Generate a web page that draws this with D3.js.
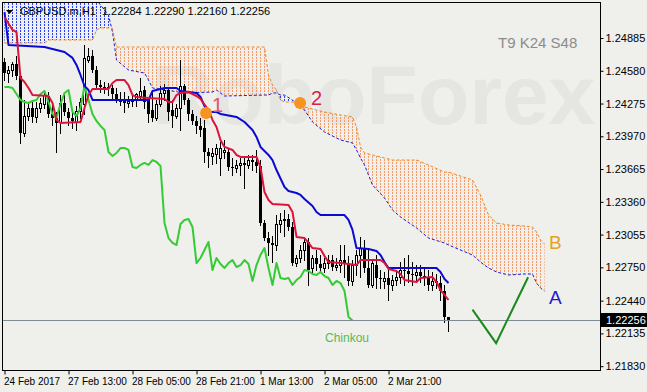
<!DOCTYPE html>
<html>
<head>
<meta charset="utf-8">
<script src="https://cdn.jsdelivr.net/npm/d3@7"></script>
<style>
  body { margin: 0; background: #efefeb; }
  svg { display: block; font-family: "Liberation Sans", Arial, sans-serif; }
</style>
</head>
<body>
<svg width="647" height="392"></svg>
<script>
// GBPUSD H1 candles, bar 0 = first visible bar
let opens = [1.24661,1.24559,1.24587,1.24643,1.24531,1.24001,1.24159,1.24234,1.24150,1.24234,
  1.24271,1.24345,1.24178,1.24141,1.24103,1.24280,1.24196,1.24141,1.24103,1.24206,
  1.24271,1.24680,1.24718,1.24587,1.24447,1.24429,1.24429,1.24420,1.24364,1.24308,
  1.24308,1.24280,1.24299,1.24308,1.24345,1.24401,1.24317,1.24215,1.24141,1.24271,
  1.24373,1.24401,1.24215,1.24159,1.24234,1.24438,1.24308,1.24178,1.24113,1.24066,
  1.24047,1.23824,1.23787,1.23806,1.23768,1.23824,1.23824,1.23684,1.23675,1.23703,
  1.23722,1.23703,1.23749,1.23731,1.23693,1.23163,1.23023,1.22977,1.22958,1.23154,
  1.23191,1.23200,1.23126,1.22790,1.22837,1.22912,1.22986,1.22744,1.22837,1.22781,
  1.22744,1.22790,1.22818,1.22753,1.22771,1.22818,1.22781,1.22623,1.22771,1.22865,
  1.22930,1.22744,1.22586,1.22771,1.22651,1.22623,1.22651,1.22586,1.22632,1.22660,
  1.22725,1.22716,1.22688,1.22679,1.22707,1.22669,1.22651,1.22586,1.22623,1.22604,
  1.22530,1.22284];
let highs = [1.24700,1.24624,1.24661,1.24718,1.24550,1.24308,1.24289,1.24308,1.24289,1.24327,
  1.24401,1.24382,1.24261,1.24196,1.24354,1.24382,1.24234,1.24196,1.24252,1.24327,
  1.24820,1.24793,1.24774,1.24624,1.24494,1.24475,1.24466,1.24447,1.24420,1.24382,
  1.24382,1.24345,1.24345,1.24373,1.24513,1.24438,1.24336,1.24382,1.24308,1.24438,
  1.24457,1.24420,1.24308,1.24271,1.24680,1.24457,1.24327,1.24215,1.24159,1.24141,
  1.24122,1.23861,1.23861,1.23899,1.23917,1.23936,1.23861,1.23768,1.23749,1.23768,
  1.23768,1.23796,1.23796,1.23843,1.23749,1.23191,1.23079,1.23042,1.23237,1.23256,
  1.23284,1.23247,1.23172,1.22865,1.22958,1.23023,1.23023,1.22865,1.22912,1.22865,
  1.22837,1.22865,1.22865,1.22837,1.22958,1.22958,1.22856,1.22818,1.22912,1.23033,
  1.23005,1.22912,1.22818,1.22865,1.22725,1.22707,1.22725,1.22679,1.22725,1.22799,
  1.22837,1.22865,1.22799,1.22771,1.22771,1.22744,1.22725,1.22707,1.22688,1.22669,
  1.22586,1.22290];
let lows = [1.24494,1.24475,1.24531,1.24503,1.23908,1.23973,1.24122,1.24103,1.24103,1.24196,
  1.24234,1.24150,1.24075,1.23824,1.24001,1.24168,1.24075,1.24047,1.24029,1.24141,
  1.24178,1.24661,1.24568,1.24420,1.24382,1.24373,1.24354,1.24327,1.24289,1.24261,
  1.24196,1.24243,1.24252,1.24252,1.24308,1.24234,1.24103,1.24113,1.24122,1.24252,
  1.24308,1.24122,1.24057,1.24141,1.24029,1.24271,1.24122,1.24085,1.24001,1.23973,
  1.23731,1.23684,1.23712,1.23722,1.23609,1.23768,1.23656,1.23609,1.23637,1.23609,
  1.23489,1.23675,1.23656,1.23637,1.23144,1.23005,1.22865,1.22799,1.22912,1.23079,
  1.23042,1.23098,1.22771,1.22762,1.22799,1.22818,1.22586,1.22707,1.22725,1.22707,
  1.22707,1.22744,1.22725,1.22725,1.22707,1.22660,1.22586,1.22586,1.22679,1.22660,
  1.22707,1.22567,1.22567,1.22558,1.22558,1.22558,1.22446,1.22539,1.22586,1.22604,
  1.22586,1.22613,1.22586,1.22613,1.22613,1.22586,1.22539,1.22539,1.22558,1.22446,
  1.22241,1.22160];
let closes = [1.24559,1.24587,1.24643,1.24531,1.24001,1.24159,1.24234,1.24150,1.24234,1.24280,
  1.24354,1.24178,1.24141,1.24094,1.24280,1.24196,1.24141,1.24113,1.24206,1.24289,
  1.24700,1.24718,1.24587,1.24447,1.24429,1.24429,1.24420,1.24364,1.24308,1.24289,
  1.24280,1.24299,1.24308,1.24364,1.24392,1.24289,1.24178,1.24141,1.24271,1.24373,
  1.24401,1.24196,1.24159,1.24234,1.24438,1.24308,1.24178,1.24113,1.24066,1.24029,
  1.23824,1.23787,1.23815,1.23861,1.23861,1.23843,1.23684,1.23675,1.23703,1.23722,
  1.23703,1.23749,1.23731,1.23693,1.23163,1.23023,1.22977,1.22958,1.23154,1.23191,
  1.23200,1.23126,1.22790,1.22837,1.22912,1.22986,1.22725,1.22837,1.22781,1.22744,
  1.22790,1.22818,1.22753,1.22771,1.22818,1.22781,1.22623,1.22771,1.22865,1.22930,
  1.22744,1.22586,1.22790,1.22651,1.22642,1.22651,1.22586,1.22632,1.22660,1.22725,
  1.22716,1.22688,1.22679,1.22707,1.22669,1.22651,1.22586,1.22623,1.22604,1.22530,
  1.22288,1.22256];

// Ichimoku lines (bar index, price)
let tenkanBar = [0,2,3,4,5,6,7,11,12,13,14,19,20,21,22,26,27,28,30,31,32,33,36,40,41,42,43,44,46,48,49,51,52,53,54,55,57,58,59,63,64,65,66,67,71,72,73,75,76,77,79,80,81,84,88,89,94,95,96,98,99,100,103,104,107,108,109,110,111];
let tenkanVal = [1.25081,1.24960,1.24941,1.24513,1.24475,1.24420,1.24354,1.24345,1.24280,1.24122,1.24094,1.24103,1.24234,1.24354,1.24410,1.24410,1.24466,1.24494,1.24494,1.24447,1.24354,1.24336,1.24327,1.24317,1.24289,1.24289,1.24354,1.24373,1.24382,1.24345,1.24317,1.24215,1.24122,1.24057,1.23936,1.23871,1.23843,1.23796,1.23778,1.23778,1.23684,1.23451,1.23377,1.23340,1.23331,1.23265,1.23033,1.23023,1.22977,1.22930,1.22921,1.22856,1.22799,1.22790,1.22771,1.22818,1.22818,1.22790,1.22735,1.22716,1.22688,1.22632,1.22613,1.22651,1.22660,1.22613,1.22539,1.22493,1.22446];
let kijunBar = [0,1,10,12,15,17,18,19,20,21,22,36,37,40,43,44,48,49,50,51,53,54,58,60,62,63,64,66,67,68,70,71,73,74,75,77,78,79,85,86,87,88,91,93,94,95,96,108,109,110,111];
let kijunVal = [1.25127,1.24820,1.24801,1.24783,1.24755,1.24700,1.24634,1.24541,1.24438,1.24401,1.24308,1.24308,1.24392,1.24420,1.24420,1.24392,1.24373,1.24336,1.24252,1.24196,1.24196,1.24178,1.24150,1.24103,1.24029,1.23964,1.23871,1.23796,1.23749,1.23656,1.23498,1.23461,1.23442,1.23424,1.23387,1.23321,1.23265,1.23237,1.23237,1.23191,1.23098,1.22930,1.22921,1.22902,1.22865,1.22799,1.22744,1.22744,1.22707,1.22642,1.22604];

// cloud, shifted 24 bars ahead
let cloudBar = [0,3,10,11,22,23,24,26,27,28,31,35,36,37,45,52,53,55,65,66,67,68,69,70,72,73,75,77,80,84,87,88,89,90,92,95,97,99,103,106,110,111,117,119,120,121,123,126,130,132,133,134,135];
let spanA = [1.25313,1.25313,1.25313,1.25313,1.25313,1.25239,1.25192,1.25099,1.24941,1.24680,1.24587,1.24559,1.24494,1.24420,1.24373,1.24382,1.24401,1.24345,1.24354,1.24354,1.24373,1.24373,1.24354,1.24354,1.24308,1.24271,1.24215,1.24103,1.24010,1.23936,1.23908,1.23843,1.23768,1.23703,1.23517,1.23396,1.23284,1.23219,1.23117,1.23023,1.22977,1.22958,1.22865,1.22799,1.22771,1.22744,1.22707,1.22679,1.22688,1.22688,1.22604,1.22558,1.22530];
let spanB = [1.24839,1.24839,1.24839,1.24867,1.24867,1.24960,1.24979,1.24979,1.24969,1.24801,1.24801,1.24801,1.24801,1.24801,1.24801,1.24801,1.24801,1.24801,1.24801,1.24541,1.24447,1.24401,1.24308,1.24289,1.24289,1.24280,1.24243,1.24224,1.24196,1.24168,1.24150,1.24057,1.23871,1.23815,1.23796,1.23768,1.23749,1.23749,1.23749,1.23703,1.23637,1.23637,1.23563,1.23424,1.23330,1.23237,1.23163,1.23144,1.23135,1.23126,1.23079,1.23005,1.22967];
let chikouShift = 24;

let priceTicks = [1.24885,1.24580,1.24275,1.23970,1.23665,1.23360,1.23055,1.22750,1.22440,1.22135,1.21830];
let timeBars = [0,16,32,48,64,80,96];
let timeLabels = ['24 Feb 2017','27 Feb 13:00','28 Feb 05:00','28 Feb 21:00','1 Mar 13:00','2 Mar 05:00','2 Mar 21:00'];

// annotation marks (bar, price)
let marks = [[50.4, 1.24187, '1'], [73.9, 1.24280, '2']];
let checkMark = [[117, 1.22356], [122.9, 1.22044], [130.9, 1.22658]];
let lastPrice = 1.22256;

let svg = d3.select('svg'),
    width = +svg.attr('width'),
    height = +svg.attr('height');
let plotL = 3, plotR = 601, plotT = 3, plotB = 371;

let x = d3.scaleLinear().domain([-0.375, 149.125]).range([plotL, plotR]);
let y = d3.scaleLinear().domain([1.21785, 1.25211]).range([plotB, plotT]);

svg.append('rect').attr('width', width).attr('height', height).attr('fill', '#efefeb');

let defs = svg.append('defs');
defs.append('clipPath').attr('id', 'plot')
  .append('rect').attr('x', plotL).attr('y', plotT)
  .attr('width', plotR - plotL).attr('height', plotB - plotT);
function hatch(id, color) {
  let p = defs.append('pattern').attr('id', id)
    .attr('patternUnits', 'userSpaceOnUse')
    .attr('width', 4).attr('height', 3);
  p.append('rect').attr('x', 0).attr('y', 0)
    .attr('width', 1).attr('height', 2).attr('fill', color);
}
hatch('hatchB', '#f79a6a');
hatch('hatchA', '#2b3ff0');

// watermark
svg.append('text')
  .attr('x', 152).attr('y', 124)
  .attr('font-size', 84).attr('font-weight', 'bold')
  .attr('fill', '#e5e5e1')
  .text('RoboForex');

let plot = svg.append('g').attr('clip-path', 'url(#plot)');

let cloud = d3.range(cloudBar.length).map(function(i) {
  return {bar: cloudBar[i], a: spanA[i], b: spanB[i]};
});

plot.append('path').datum(cloud)
  .attr('fill', 'url(#hatchB)')
  .attr('d', d3.area()
    .x(function(d) { return x(d.bar); })
    .y0(function(d) { return y(d.a); })
    .y1(function(d) { return y(Math.max(d.a, d.b)); }));

plot.append('path').datum(cloud)
  .attr('fill', 'url(#hatchA)')
  .attr('d', d3.area()
    .x(function(d) { return x(d.bar); })
    .y0(function(d) { return y(d.b); })
    .y1(function(d) { return y(Math.max(d.a, d.b)); }));

plot.append('path').datum(cloud)
  .attr('fill', 'none').attr('stroke', '#1c1cdc')
  .attr('stroke-width', 1).attr('stroke-dasharray', '3,2')
  .attr('d', d3.line().x(function(d) { return x(d.bar); }).y(function(d) { return y(d.a); }));

plot.append('path').datum(cloud)
  .attr('fill', 'none').attr('stroke', '#f08a1c')
  .attr('stroke-width', 1).attr('stroke-dasharray', '3,2')
  .attr('d', d3.line().x(function(d) { return x(d.bar); }).y(function(d) { return y(d.b); }));

// candles
let candles = plot.append('g').selectAll('g')
  .data(d3.range(opens.length))
  .enter().append('g');

candles.append('line')
  .attr('x1', function(i) { return x(i); })
  .attr('x2', function(i) { return x(i); })
  .attr('y1', function(i) { return Math.round(y(highs[i])); })
  .attr('y2', function(i) { return Math.round(y(lows[i])) + 1; })
  .attr('stroke', '#000').attr('stroke-width', 1);

candles.append('rect')
  .attr('x', function(i) { return closes[i] >= opens[i] ? x(i) - 1 : x(i) - 1.5; })
  .attr('width', function(i) { return closes[i] >= opens[i] ? 2 : 3; })
  .attr('y', function(i) {
    let t = Math.round(y(Math.max(opens[i], closes[i])));
    return closes[i] >= opens[i] ? t + 0.5 : t;
  })
  .attr('height', function(i) {
    let t = Math.round(y(Math.max(opens[i], closes[i])));
    let b = Math.round(y(Math.min(opens[i], closes[i])));
    return Math.max(b - t, 1);
  })
  .attr('fill', function(i) { return closes[i] >= opens[i] ? '#fff' : '#000'; })
  .attr('stroke', function(i) { return closes[i] >= opens[i] ? '#000' : 'none'; })
  .attr('stroke-width', 1);

function drawLine(bars, vals, color) {
  plot.append('path')
    .datum(d3.zip(bars, vals))
    .attr('fill', 'none')
    .attr('stroke', color)
    .attr('stroke-width', 2)
    .attr('stroke-linejoin', 'round')
    .attr('d', d3.line()
      .x(function(d) { return x(d[0]); })
      .y(function(d) { return y(d[1]); }));
}

let chikouBars = d3.range(chikouShift, closes.length).map(function(i) { return i - chikouShift; });
drawLine(chikouBars, closes.slice(chikouShift), '#33cc33');
drawLine(kijunBar, kijunVal, '#0a0ad2');
drawLine(tenkanBar, tenkanVal, '#dc143c');

// last price line
plot.append('line')
  .attr('x1', plotL).attr('x2', plotR)
  .attr('y1', Math.round(y(lastPrice)) + 0.5).attr('y2', Math.round(y(lastPrice)) + 0.5)
  .attr('stroke', '#7f8a95').attr('stroke-width', 1);

// annotations
marks.forEach(function(m) {
  plot.append('circle')
    .attr('cx', x(m[0])).attr('cy', y(m[1])).attr('r', 6)
    .attr('fill', '#f7931e');
});
svg.append('text').attr('x', 212).attr('y', 112)
  .attr('font-size', 20).attr('fill', '#e2506a').text(marks[0][2]);
svg.append('text').attr('x', 311).attr('y', 105)
  .attr('font-size', 20).attr('fill', '#d8224e').text(marks[1][2]);

svg.append('path').datum(checkMark)
  .attr('fill', 'none').attr('stroke', '#1a8a1a').attr('stroke-width', 2)
  .attr('d', d3.line()
    .x(function(d) { return x(d[0]); })
    .y(function(d) { return y(d[1]); }));

svg.append('text').attr('x', 549).attr('y', 249)
  .attr('font-size', 19).attr('fill', '#e5a11f').text('B');
svg.append('text').attr('x', 549).attr('y', 304)
  .attr('font-size', 19).attr('fill', '#1c1cc8').text('A');
svg.append('text').attr('x', 325).attr('y', 342)
  .attr('font-size', 12).attr('fill', '#55bb55').text('Chinkou');

// frame
svg.append('rect')
  .attr('x', plotL - 0.5).attr('y', plotT - 0.5)
  .attr('width', plotR - plotL).attr('height', plotB - plotT)
  .attr('fill', 'none').attr('stroke', '#000');

// axes
let yAxis = svg.append('g')
  .attr('transform', 'translate(' + (plotR - 0.5) + ',0)')
  .call(d3.axisRight(y).tickValues(priceTicks).tickSize(3).tickSizeOuter(0)
    .tickFormat(d3.format('.5f')));
yAxis.select('.domain').remove();
yAxis.selectAll('text').attr('font-size', 11).attr('fill', '#000')
  .attr('font-family', '"Liberation Sans", Arial, sans-serif').attr('x', 5);

let xAxis = svg.append('g')
  .attr('transform', 'translate(0,' + (plotB - 0.5) + ')')
  .call(d3.axisBottom(x).tickValues(timeBars).tickSize(4).tickSizeOuter(0)
    .tickFormat(function(d, i) { return timeLabels[i]; }));
xAxis.select('.domain').remove();
xAxis.selectAll('text').attr('font-size', 10).attr('fill', '#000')
  .attr('font-family', '"Liberation Sans", Arial, sans-serif')
  .attr('text-anchor', 'start').attr('x', -1);

// current price label
let py = Math.round(y(lastPrice));
svg.append('rect').attr('x', plotR).attr('y', py - 7)
  .attr('width', width - plotR).attr('height', 14).attr('fill', '#000');
svg.append('text').attr('x', plotR + 5).attr('y', py + 4)
  .attr('font-size', 11).attr('fill', '#fff').text(d3.format('.5f')(lastPrice));

// header
svg.append('path').attr('d', 'M6,10 L13,10 L9.5,14 Z').attr('fill', '#000');
svg.append('text').attr('x', 20).attr('y', 15)
  .attr('font-size', 11).attr('fill', '#000')
  .style('white-space', 'pre')
  .text('GBPUSD.m,H1  1.22284 1.22290 1.22160 1.22256');
svg.append('text').attr('x', 498).attr('y', 48)
  .attr('font-size', 15).attr('fill', '#8c8c8c')
  .text('T9 K24 S48');
</script>
</body>
</html>
